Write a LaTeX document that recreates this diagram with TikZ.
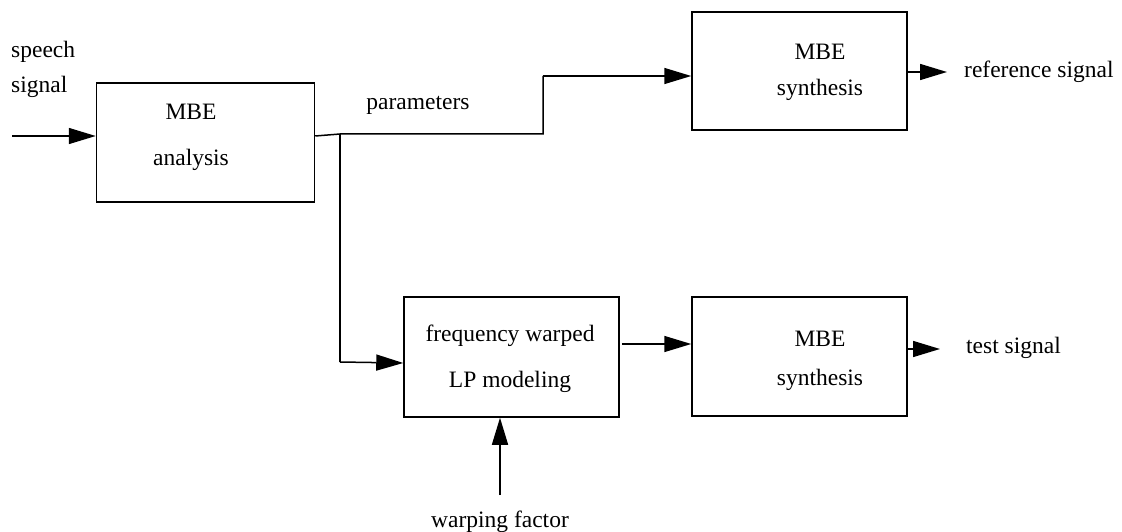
\documentclass[tikz,border=0pt]{standalone}
\usepackage{fontspec}
\setmainfont{Liberation Serif}
\usetikzlibrary{arrows.meta}
\begin{document}
\begin{tikzpicture}[x=1pt,y=-1pt,
  blk/.style={draw,line width=1.5pt,inner sep=0pt},
  lbl/.style={font=\fontsize{23.5}{27}\selectfont,inner sep=0pt},
  conn/.style={line width=1.5pt},
  arr/.style={conn,-{Triangle[length=27pt,width=16pt]}}]
\useasboundingbox (0,0) rectangle (1122,532);
% boxes
\node[blk,minimum width=218pt,minimum height=119pt] (ana) at (205.5,142.5) {};
\node[blk,minimum width=215pt,minimum height=118pt] (syn1) at (799.5,71) {};
\node[blk,minimum width=215pt,minimum height=120pt] (lp) at (511.5,357) {};
\node[blk,minimum width=215pt,minimum height=119pt] (syn2) at (799.5,356.5) {};
% box texts
\node[lbl] (anaA) at (191,112) {MBE};
\node[lbl] (anaB) at (191,160) {analysis};
\node[lbl] (syn1A) at (820,52) {MBE};
\node[lbl] (syn1B) at (820,90) {synthesis};
\node[lbl] (lpA) at (510,336) {frequency warped};
\node[lbl] (lpB) at (510,382) {LP modeling};
\node[lbl] (syn2A) at (820,339) {MBE};
\node[lbl] (syn2B) at (820,380) {synthesis};
% free labels
\node[lbl,anchor=west] (sp1) at (11,52) {speech};
\node[lbl,anchor=west] (sp2) at (11,87) {signal};
\node[lbl] (par) at (418,105) {parameters};
\node[lbl,anchor=west] (ref) at (964,72) {reference signal};
\node[lbl,anchor=west] (tst) at (966,348) {test signal};
\node[lbl] (wf) at (500,522) {warping factor};
% coordinates
\coordinate (in) at (12,136);
\coordinate (aout) at (ana.east |- 0,136);
\coordinate (j) at (340,134);
\coordinate (s1) at (543,134);
\coordinate (s2) at (543,76);
\coordinate (j2) at (340,362);
\coordinate (o1) at (947,72);
\coordinate (o2) at (940,349);
\coordinate (wfs) at (500,495);
% connectors
\draw[arr] (in) -- (ana.west |- in);
\draw[conn] (aout) -- (j) -- (s1) -- (s2);
\draw[arr] (s2) -- (syn1.west |- s2);
\draw[conn] (j) -- (j2);
\draw[arr] (j2) -- (lp.west |- 0,363);
\draw[arr] ([xshift=2pt]lp.east |- 0,344) -- (syn2.west |- 0,344);
\draw[arr] (syn1.east |- o1) -- (o1);
\draw[arr] (syn2.east |- o2) -- (o2);
\draw[arr] (wfs) -- (lp.south -| wfs);
\end{tikzpicture}
\end{document}
